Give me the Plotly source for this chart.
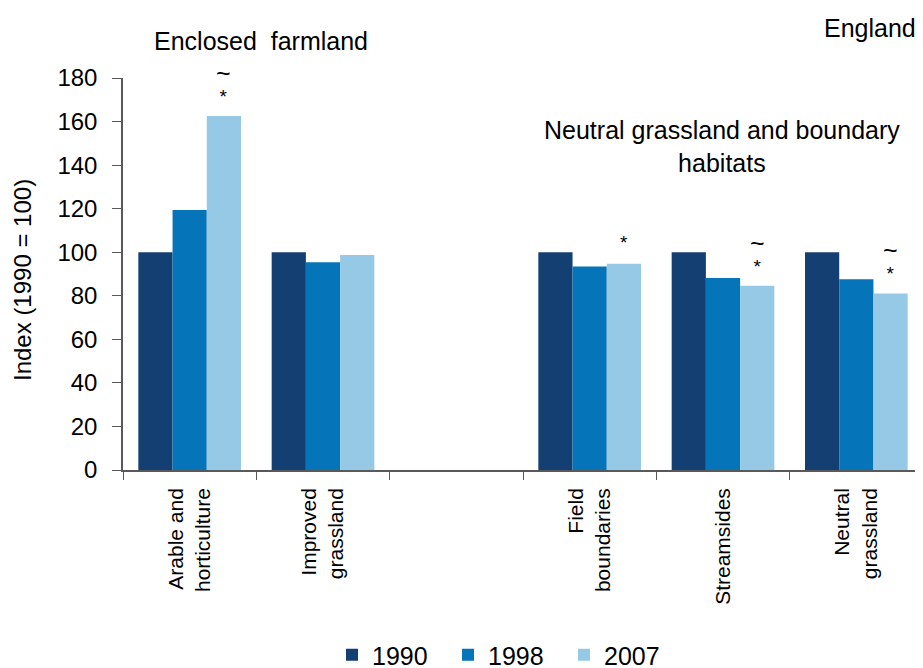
import plotly.graph_objects as go

categories = ["Arable and<br>horticulture", "Improved<br>grassland", " ",
              "Field<br>boundaries", "Streamsides", "Neutral<br>grassland"]
years = ["1990", "1998", "2007"]
v1990 = [100, 100, None, 100, 100, 100]
v1998 = [119.4, 95.4, None, 93.4, 88.2, 87.6]
v2007 = [162.5, 98.7, None, 94.7, 84.6, 81.1]
# significance markers on the 2007 bars
star_flags = [True, False, False, True, True, True]
tilde_flags = [True, False, False, False, True, True]
y_ticks = [0, 20, 40, 60, 80, 100, 120, 140, 160, 180]

colors = ["#143f73", "#0674b9", "#96c9e5"]
FONT = "Liberation Sans, Arial, sans-serif"

# page has an 8px body margin: size the figure so the plot lands where the reference has it
OFF = 8
W, H = 923 - OFF, 668 - OFF
L, R, T = 123 - OFF, 0, 78 - OFF
PH = 392
B = H - T - PH
PW = W - L - R

fig = go.Figure()
for name, vals, col in zip(years, [v1990, v1998, v2007], colors):
    fig.add_trace(go.Bar(x=categories, y=vals, name=name, marker_color=col,
                         marker_line_width=0))

ann = []
for cat, v, s, t in zip(categories, v2007, star_flags, tilde_flags):
    if s and t:
        ann.append(dict(x=cat, y=v, xref="x", yref="y",
                        text="<span style='font-size:25px'>~</span><br>"
                             "<span style='font-size:19px'>*</span>",
                        showarrow=False, xshift=34, yshift=33, yanchor="middle",
                        font=dict(size=16, color="#000", family=FONT)))
    elif s:
        ann.append(dict(x=cat, y=v, xref="x", yref="y", text="*", showarrow=False,
                        xshift=34, yshift=21, yanchor="middle",
                        font=dict(size=19, color="#000", family=FONT)))


def page_text(px, py, text, size, xanchor="center", angle=0):
    fx, fy = px - OFF, py - OFF
    return dict(x=(fx - L) / PW, y=1 - (fy - T) / PH, xref="paper", yref="paper",
                text=text, showarrow=False, xanchor=xanchor, yanchor="middle",
                textangle=angle, font=dict(size=size, color="#000", family=FONT))


ann += [
    page_text(261, 41, "Enclosed  farmland", 25),
    page_text(918, 28, "England", 25, xanchor="right"),
    page_text(722, 147, "Neutral grassland and boundary<br>habitats", 25),
    page_text(22, 280, "Index (1990 = 100)", 24, angle=-90),
]

fig.update_layout(
    width=W, height=H,
    margin=dict(l=L, r=R, t=T, b=B, autoexpand=False),
    paper_bgcolor="white", plot_bgcolor="white",
    barmode="group", bargap=0.23, bargroupgap=0,
    font=dict(family=FONT, size=22, color="#000"),
    showlegend=True,
    legend=dict(orientation="h", x=(332 - OFF - L) / PW, xanchor="left",
                y=1 - (655 - OFF - T) / PH, yanchor="middle",
                font=dict(size=25), entrywidth=71, entrywidthmode="pixels",
                traceorder="normal"),
    annotations=ann,
    xaxis=dict(type="category", showline=True, linecolor="#595959", linewidth=1.5,
               ticks="outside", ticklen=8, tickcolor="#595959", tickson="boundaries",
               tickangle=-90, tickfont=dict(size=21), showgrid=False,
               ticklabelstandoff=8),
    yaxis=dict(range=[0, 180], tickvals=y_ticks, showline=True, linecolor="#595959",
               linewidth=1.5, ticks="outside", ticklen=9, tickcolor="#595959",
               showgrid=False, zeroline=False, tickfont=dict(size=24),
               ticklabelstandoff=10),
)

fig.write_html("out.html")
